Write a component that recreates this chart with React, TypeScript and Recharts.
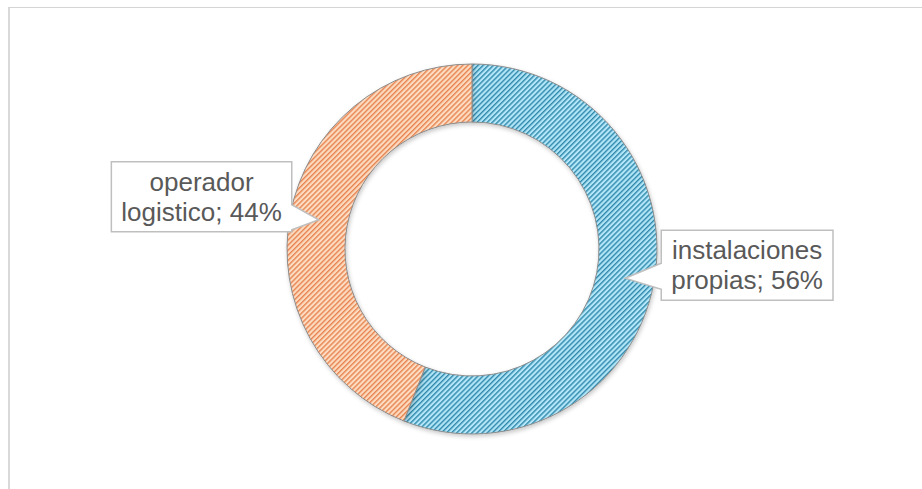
import { Cell, Pie, PieChart } from 'recharts'

const categories = ['instalaciones propias', 'operador logistico']
const shares = [56, 44]

const fills = ['url(#hatchBlue)', 'url(#hatchOrange)']
// where each callout box sits relative to the slice's mid point
const calloutOffsets = [
  { dx: 36, dy: -13 },
  { dx: -27, dy: -23 },
]

const data = categories.map((name, i) => ({ name, value: shares[i] }))

const FONT = '26px "Liberation Sans", Arial, sans-serif'
const RAD = Math.PI / 180

let measureCtx: CanvasRenderingContext2D | null = null
function textWidth(s: string) {
  if (!measureCtx) {
    measureCtx = document.createElement('canvas').getContext('2d')
  }
  if (!measureCtx) return s.length * 13
  measureCtx.font = FONT
  return measureCtx.measureText(s).width
}

function renderCallout(props: any) {
  const { cx, cy, midAngle, innerRadius, outerRadius, name, value, index } = props
  const r = (innerRadius + outerRadius) / 2
  const tipX = cx + r * Math.cos(-midAngle * RAD)
  const tipY = cy + r * Math.sin(-midAngle * RAD)
  const text = `${name}; ${value}%`
  const cut = text.indexOf(' ')
  const lines = [text.slice(0, cut), text.slice(cut + 1)]
  const w = Math.max(...lines.map(textWidth)) + 20
  const h = 70
  const off = calloutOffsets[index]
  const right = off.dx > 0
  const x0 = right ? tipX + off.dx : tipX + off.dx - w
  const x1 = x0 + w
  const y0 = tipY + off.dy - h / 2
  const y1 = y0 + h
  const b0 = Math.max(y0 + 2, tipY - 15)
  const b1 = Math.min(y1 - 2, tipY + 11)
  const path = right
    ? `M${x0},${y0} L${x1},${y0} L${x1},${y1} L${x0},${y1} L${x0},${b1} L${tipX},${tipY} L${x0},${b0} Z`
    : `M${x0},${y0} L${x1},${y0} L${x1},${b0} L${tipX},${tipY} L${x1},${b1} L${x1},${y1} L${x0},${y1} Z`
  const mid = (x0 + x1) / 2
  return (
    <g key={`callout-${index}`}>
      <path d={path} fill="#ffffff" stroke="#bfbfbf" strokeWidth={1.5} />
      {lines.map((ln, i) => (
        <text
          key={i}
          x={mid}
          y={y0 + 20 + i * 30}
          textAnchor="middle"
          dominantBaseline="central"
          fill="#595959"
          style={{ font: FONT }}
        >
          {ln}
        </text>
      ))}
    </g>
  )
}

export default function App() {
  return (
    <div
      style={{
        position: 'fixed',
        left: 8,
        top: 7,
        width: 914,
        height: 482,
        borderTop: '1px solid #d4d4d4',
        borderLeft: '2px solid #d9d9d9',
        background: '#ffffff',
      }}
    >
      <PieChart width={912} height={481} margin={{ top: 0, right: 0, bottom: 0, left: 0 }}>
        <defs>
          <pattern id="hatchBlue" width="3.6" height="3.6" patternUnits="userSpaceOnUse" patternTransform="rotate(45)">
            <rect width="3.6" height="3.6" fill="#b2e6f8" />
            <line x1="0.7" y1="0" x2="0.7" y2="3.6" stroke="#2f88ab" strokeWidth="1.4" />
          </pattern>
          <pattern id="hatchOrange" width="3.6" height="3.6" patternUnits="userSpaceOnUse" patternTransform="rotate(45)">
            <rect width="3.6" height="3.6" fill="#fddcc2" />
            <line x1="0.7" y1="0" x2="0.7" y2="3.6" stroke="#e6834f" strokeWidth="1.4" />
          </pattern>
          <filter id="ringShadow" x="-20%" y="-20%" width="140%" height="140%">
            <feDropShadow dx="1" dy="2" stdDeviation="2" floodColor="#000000" floodOpacity="0.22" />
          </filter>
        </defs>
        <Pie
          data={data}
          dataKey="value"
          nameKey="name"
          cx={462}
          cy={241}
          innerRadius={127}
          outerRadius={185}
          startAngle={90}
          endAngle={-270}
          stroke="#8c8c8c"
          strokeWidth={1}
          label={renderCallout}
          labelLine={false}
          isAnimationActive={false}
        >
          {data.map((d, i) => (
            <Cell key={d.name} fill={fills[i]} filter="url(#ringShadow)" />
          ))}
        </Pie>
      </PieChart>
    </div>
  )
}
